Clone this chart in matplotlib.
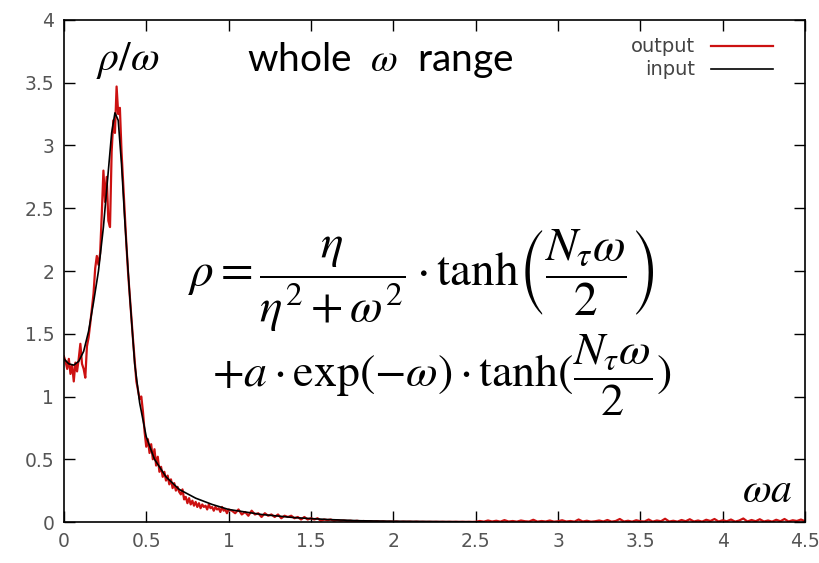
import matplotlib
matplotlib.use('Agg')
import matplotlib.pyplot as plt
from matplotlib import rcParams

rcParams['mathtext.fontset'] = 'stix'
rcParams['font.family'] = ['DejaVu Sans']

# input curve (smooth)
input_x = [0.00, 0.03, 0.06, 0.09, 0.12, 0.15, 0.18, 0.21, 0.24, 0.27, 0.29,
           0.31, 0.33, 0.35, 0.37, 0.40, 0.43, 0.46, 0.50, 0.55, 0.62, 0.70,
           0.80, 0.90, 1.00, 1.10, 1.20, 1.40, 1.60, 1.80, 2.00, 2.30, 2.55]
input_y = [1.30, 1.26, 1.25, 1.28, 1.36, 1.52, 1.75, 2.00, 2.35, 2.80, 3.10,
           3.26, 3.20, 2.85, 2.40, 1.80, 1.26, 0.95, 0.68, 0.50, 0.36, 0.26,
           0.19, 0.14, 0.10, 0.08, 0.06, 0.035, 0.02, 0.01, 0.006, 0.003, 0.001]

# output curve (noisy)
output_x = [round(0.01 * i, 2) for i in range(0, 101)] + \
           [round(1.0 + 0.02 * i, 2) for i in range(1, 76)] + \
           [round(2.5 + 0.025 * i, 3) for i in range(1, 81)]
output_y = [
    # 0.00 - 0.10
    1.32, 1.28, 1.22, 1.30, 1.18, 1.25, 1.12, 1.27, 1.20, 1.30, 1.42,
    # 0.11 - 0.20
    1.26, 1.22, 1.15, 1.40, 1.47, 1.58, 1.70, 1.82, 2.02, 2.12,
    # 0.21 - 0.30
    2.05, 2.14, 2.45, 2.80, 2.55, 2.75, 2.40, 2.35, 2.95, 3.20,
    # 0.31 - 0.40
    3.10, 3.47, 3.25, 3.30, 2.95, 2.70, 2.45, 2.20, 1.98, 1.80,
    # 0.41 - 0.50
    1.62, 1.45, 1.28, 1.12, 1.05, 0.98, 1.00, 0.88, 0.72, 0.60,
    # 0.51 - 0.60
    0.66, 0.55, 0.62, 0.50, 0.58, 0.45, 0.52, 0.40, 0.44, 0.36,
    # 0.61 - 0.70
    0.40, 0.33, 0.37, 0.30, 0.34, 0.27, 0.31, 0.25, 0.28, 0.24,
    # 0.71 - 0.80
    0.22, 0.26, 0.18, 0.20, 0.15, 0.19, 0.14, 0.17, 0.13, 0.16,
    # 0.81 - 0.90
    0.12, 0.15, 0.11, 0.14, 0.12, 0.13, 0.10, 0.14, 0.11, 0.12,
    # 0.91 - 1.00
    0.09, 0.12, 0.10, 0.11, 0.08, 0.12, 0.09, 0.10, 0.07, 0.10,
    # 1.02 - 1.50
    0.09, 0.07, 0.10, 0.06, 0.08, 0.05, 0.09, 0.06, 0.07, 0.04, 0.07, 0.05,
    0.06, 0.04, 0.06, 0.03, 0.05, 0.04, 0.05, 0.03, 0.04, 0.02, 0.04, 0.02,
    0.03,
    # 1.52 - 2.50
    0.02, 0.03, 0.01, 0.02, 0.015, 0.02, 0.01, 0.015, 0.01, 0.012, 0.008,
    0.01, 0.006, 0.01, 0.005, 0.008, 0.004, 0.007, 0.003, 0.006, 0.003,
    0.005, 0.002, 0.004, 0.002, 0.004, 0.001, 0.003, 0.002, 0.003, 0.001,
    0.003, 0.001, 0.002, 0.001, 0.002, 0.001, 0.002, 0.001, 0.002, 0.001,
    0.002, 0.001, 0.002, 0.001, 0.002, 0.001, 0.002, 0.001, 0.002,
    # 2.525 - 4.50
    0.008, 0.003, 0.012, 0.004, 0.010, 0.003, 0.015, 0.004, 0.008, 0.003,
    0.012, 0.006, 0.004, 0.018, 0.003, 0.008, 0.004, 0.012, 0.003, 0.006,
    0.014, 0.004, 0.008, 0.003, 0.020, 0.004, 0.010, 0.003, 0.006, 0.012,
    0.004, 0.016, 0.003, 0.008, 0.024, 0.004, 0.010, 0.003, 0.014, 0.006,
    0.004, 0.020, 0.003, 0.012, 0.006, 0.026, 0.004, 0.010, 0.003, 0.016,
    0.006, 0.022, 0.004, 0.012, 0.003, 0.018, 0.008, 0.024, 0.004, 0.014,
    0.006, 0.020, 0.003, 0.012, 0.028, 0.004, 0.016, 0.006, 0.022, 0.004,
    0.012, 0.003, 0.018, 0.006, 0.024, 0.004, 0.014, 0.008, 0.020, 0.006,
]

x_ticks = [0, 0.5, 1, 1.5, 2, 2.5, 3, 3.5, 4, 4.5]
x_tick_labels = ['0', '0.5', '1', '1.5', '2', '2.5', '3', '3.5', '4', '4.5']
y_ticks = [0, 0.5, 1, 1.5, 2, 2.5, 3, 3.5, 4]
y_tick_labels = ['0', '0.5', '1', '1.5', '2', '2.5', '3', '3.5', '4']

red = '#cc1111'
tick_color = '#555555'

fig = plt.figure(figsize=(8.19, 5.63), dpi=100)
ax = fig.add_axes([0.078, 0.0728, 0.905, 0.8917])

ax.plot(output_x, output_y, color=red, linewidth=1.6, label='output')
ax.plot(input_x, input_y, color='black', linewidth=1.2, label='input')

ax.set_xlim(0, 4.5)
ax.set_ylim(0, 4)
ax.set_xticks(x_ticks)
ax.set_xticklabels(x_tick_labels)
ax.set_yticks(y_ticks)
ax.set_yticklabels(y_tick_labels)
ax.tick_params(direction='in', length=8, width=1, top=True, right=True,
               labelsize=13.5, labelcolor=tick_color, pad=7)
for s in ax.spines.values():
    s.set_linewidth(1.2)

leg = ax.legend(loc='upper right', frameon=False, markerfirst=False,
                fontsize=14, handlelength=3.2, labelspacing=0.2,
                bbox_to_anchor=(0.98, 1.0))
for t in leg.get_texts():
    t.set_color('#444444')

# annotations
fig.text(128 / 819, 1 - 60 / 563, r'$\rho/\omega$', fontsize=30,
         ha='center', va='center')
fig.text(380 / 819, 1 - 60 / 563, 'whole  $\\omega$  range', fontsize=28,
         ha='center', va='center', family=['Lato', 'DejaVu Sans'])
fig.text(188 / 819, 1 - 281 / 563,
         r'$\rho = \dfrac{\eta}{\eta^2 + \omega^2} \cdot \mathrm{tanh}\left(\dfrac{N_\tau \omega}{2}\right)$',
         fontsize=34, ha='left', va='center')
fig.text(212 / 819, 1 - 375 / 563,
         r'$+a \cdot \mathrm{exp}(-\omega) \cdot \mathrm{tanh}(\dfrac{N_\tau \omega}{2})$',
         fontsize=33, ha='left', va='center')
fig.text(767 / 819, 1 - 490 / 563, r'$\omega a$', fontsize=30,
         ha='center', va='center')

fig.savefig('out.png', dpi=100)
